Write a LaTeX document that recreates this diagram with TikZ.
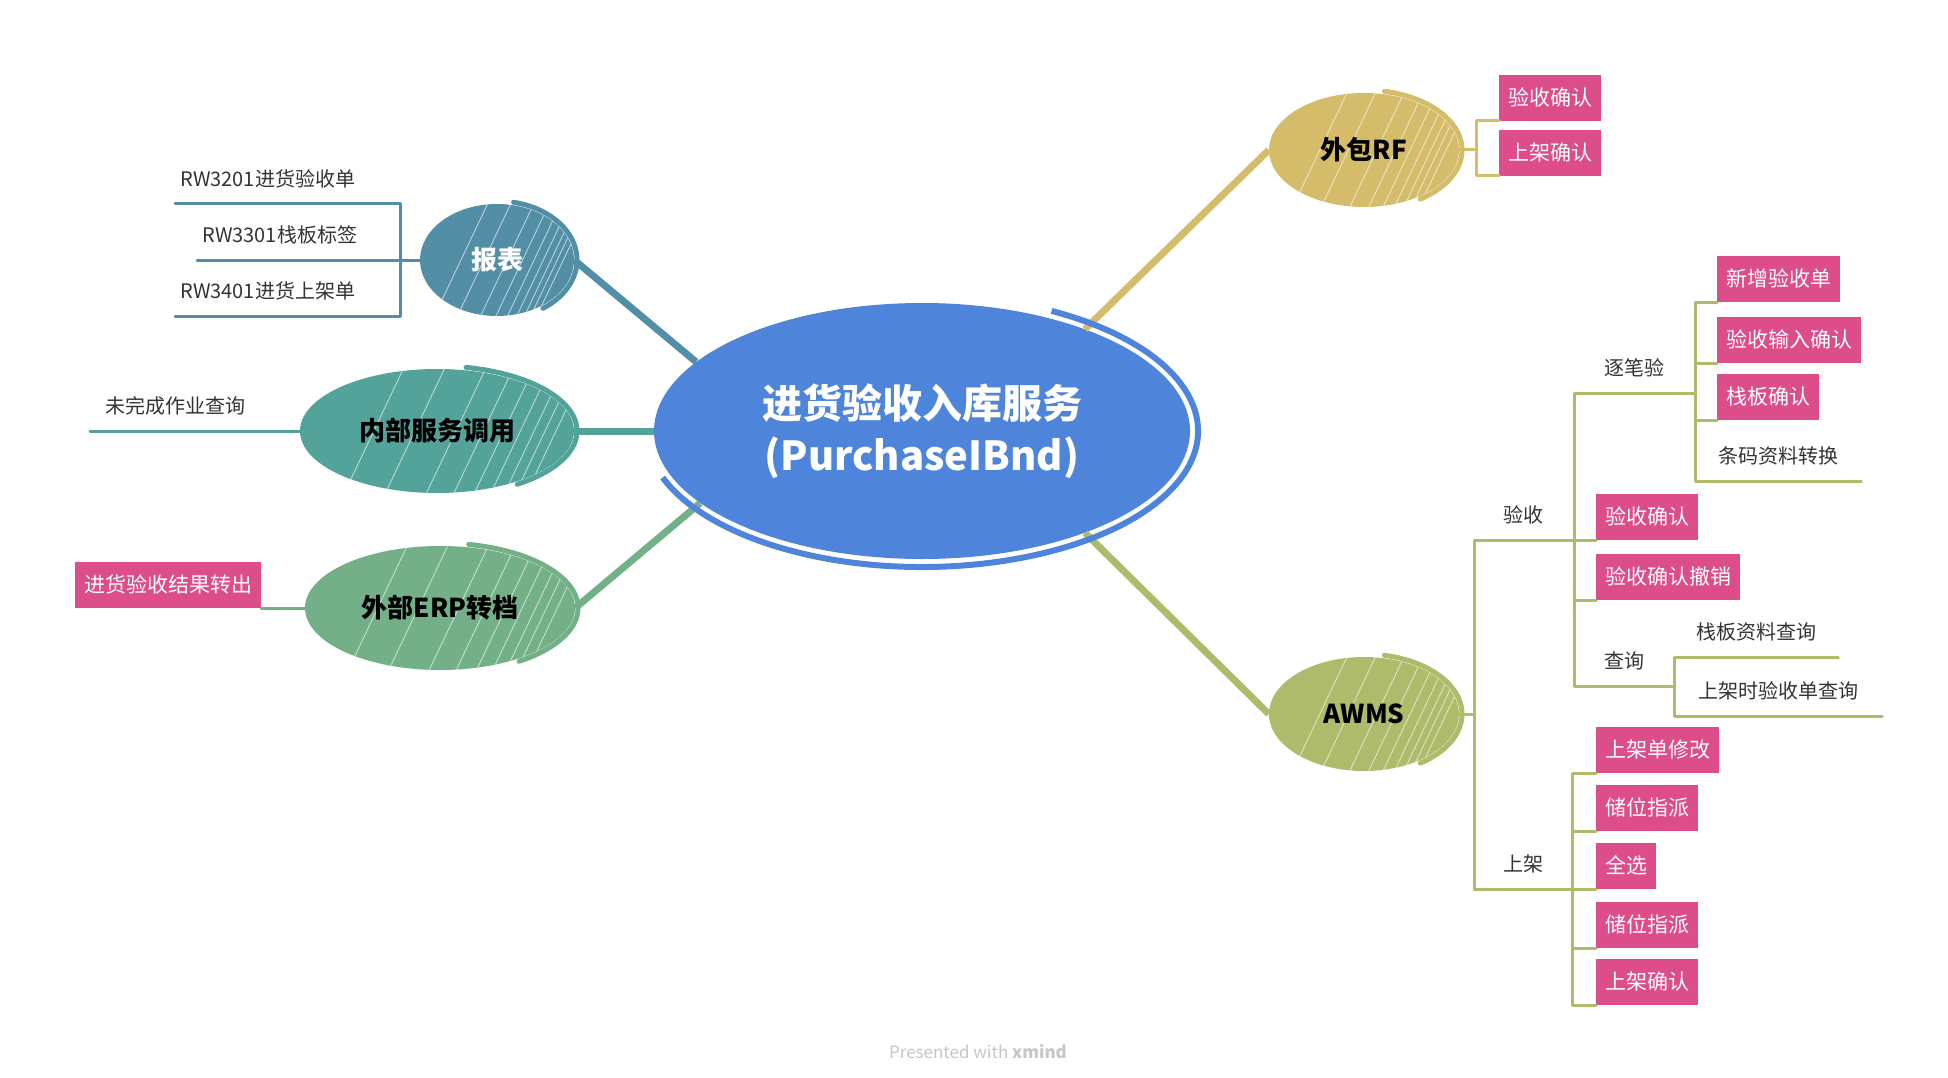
\documentclass[tikz,border=0pt]{standalone}
\usepackage{fontspec}
\setmainfont{Noto Sans CJK SC}
\usetikzlibrary{positioning,calc,shapes.geometric}
\tikzset{>=stealth}

\definecolor{mainblue}{HTML}{4E85DA}
\definecolor{repblue}{HTML}{528FA6}
\definecolor{innteal}{HTML}{53A39B}
\definecolor{erpgreen}{HTML}{73B088}
\definecolor{rfgold}{HTML}{D4BC6A}
\definecolor{awmsolive}{HTML}{ADBB6B}
\definecolor{leafpink}{HTML}{DC4D8A}
\definecolor{leaftext}{HTML}{333333}

% Outer stroke of a topic: #1 node, #2 x radius, #3 y radius, #4 colour
\newcommand{\swoosh}[4]{%
  \draw[#4,line width=5pt,line cap=round] ($(#1.center)+(-78:#2+3 and #3+3)$)
     arc [start angle=-78,end angle=55,x radius=#2+3,y radius=#3+3];
}

\begin{document}
\begin{tikzpicture}[x=1pt,y=-1pt,
  topic/.style={ellipse,inner sep=0pt,font=\fontsize{26}{30}\selectfont\bfseries},
  hatch/.style 2 args={path picture={
    \foreach \d in {-0.45,-0.15,0.15,0.35,0.5,0.62,0.72,0.8,0.88}
      \draw[white,line width=1pt,opacity=.55]
        ($(path picture bounding box.center)+(\d*#1-0.5*#2,#2)$) -- ++(0.95*#2,-2*#2);}},
  leaf/.style={fill=leafpink,text=white,inner xsep=9pt,minimum height=46pt,anchor=south west,font=\fontsize{21}{24}\selectfont},
  plain/.style={text=leaftext,minimum height=50pt,anchor=south west,font=\fontsize{20}{24}\selectfont},
  mainlink/.style={line width=7pt},
  sublink/.style={line width=3pt,line cap=round,line join=round}]
\useasboundingbox (0,0) rectangle (1948,1078);

% Central topic
\node[topic,fill=mainblue,text=white,minimum width=536pt,minimum height=256pt,
  font=\fontsize{40}{52}\selectfont\bfseries,align=center] (main) at (922,431)
  {进货验收入库服务\\(PurchaseIBnd)};

% Main branches
\node[topic,fill=repblue,text=white,hatch={77}{56},minimum width=154pt,minimum height=112pt] (rep) at (497,260) {报表};
\node[topic,fill=innteal,hatch={137}{62},minimum width=274pt,minimum height=124pt] (inner) at (437,431) {内部服务调用};
\node[topic,fill=erpgreen,hatch={135}{62},minimum width=270pt,minimum height=124pt] (erp) at (440,608) {外部ERP转档};
\node[topic,fill=rfgold,hatch={95}{57},minimum width=190pt,minimum height=114pt] (rf) at (1364,150) {外包RF};
\node[topic,fill=awmsolive,hatch={95}{57},minimum width=190pt,minimum height=114pt] (awms) at (1364,714) {AWMS};

% Links from the central topic
\draw[mainlink,repblue] (main.163) -- (rep.east);
\draw[mainlink,innteal] (main.west) -- (inner.east);
\draw[mainlink,erpgreen] (main.198) -- (erp.east);
\draw[mainlink,rfgold] (main.32) -- (rf.west);
\draw[mainlink,awmsolive] (main.-32) -- (awms.west);

% Sketch strokes
\draw[mainblue,line width=6pt] ($(main.center)+(-62:276 and 136)$)
   arc [start angle=-62,end angle=160,x radius=276,y radius=136];
\swoosh{rep}{77}{56}{repblue}
\swoosh{inner}{137}{62}{innteal}
\swoosh{erp}{135}{62}{erpgreen}
\swoosh{rf}{95}{57}{rfgold}
\swoosh{awms}{95}{57}{awmsolive}

% Reports
\coordinate (repj) at (400,260);
\node[plain,align=left,text width=215pt,inner xsep=5pt] (rw1) at (175,204) {RW3201进货验收单};
\node[plain,align=left,text width=193pt,inner xsep=5pt] (rw2) at (197,260) {RW3301栈板标签};
\node[plain,align=left,text width=215pt,inner xsep=5pt] (rw3) at (175,316) {RW3401进货上架单};
\draw[sublink,repblue] (rep) -- (repj);
\draw[sublink,repblue] (rw1.south west) -- (rw1.south east) -- (rw3.south east) -- (rw3.south west);
\draw[sublink,repblue] (rw2.south west) -- (rw2.south east);

% Internal service call
\node[plain,minimum width=170pt] (todo) at (90,431) {未完成作业查询};
\draw[sublink,innteal] (todo.south west) -- (inner);

% External ERP transfer
\node[leaf] (erpout) at (75,608) {进货验收结果转出};
\draw[sublink,erpgreen] (erpout.south east) -- (erp);

% Outsourced RF
\coordinate (rfj) at (1476,150);
\node[leaf] (rfa) at (1499,121) {验收确认};
\node[leaf] (rfb) at (1499,176) {上架确认};
\draw[sublink,rfgold] (rf) -- (rfj);
\draw[sublink,rfgold] (rfa.south west) -| (rfj) |- (rfb.south west);

% AWMS: receiving and putaway
\coordinate (awj) at (1474,714);
\node[plain,minimum width=98pt] (ys) at (1474,540) {验收};
\node[plain,minimum width=98pt] (sj) at (1474,889) {上架};
\draw[sublink,awmsolive] (awms) -- (awj);
\draw[sublink,awmsolive] (ys.south east) -- (ys.south west) |- (sj.south east);

% Receiving
\node[plain,minimum width=121pt] (zb) at (1574,393) {逐笔验};
\node[leaf] (ysqr) at (1596,540) {验收确认};
\node[leaf] (ysqrcx) at (1596,600) {验收确认撤销};
\node[plain,minimum width=100pt] (cx) at (1574,686) {查询};
\draw[sublink,awmsolive] (zb.south east) -- (zb.south west) |- (cx.south east);
\draw[sublink,awmsolive] (ys.south east) -- (ysqr.south west);
\draw[sublink,awmsolive] (ysqrcx.south west) -- (ysqrcx.south west -| zb.south west);

% Item by item
\node[leaf] (xz) at (1717,302) {新增验收单};
\node[leaf] (srqr) at (1717,363) {验收输入确认};
\node[leaf] (zbqr) at (1717,420) {栈板确认};
\node[plain,minimum width=166pt] (tm) at (1695,481) {条码资料转换};
\draw[sublink,awmsolive] (xz.south west) -| (zb.south east) |- (tm.south east);
\draw[sublink,awmsolive] (srqr.south west) -- (srqr.south west -| zb.south east);
\draw[sublink,awmsolive] (zbqr.south west) -- (zbqr.south west -| zb.south east);

% Queries
\node[plain,minimum width=164pt] (zbzl) at (1674,657) {栈板资料查询};
\node[plain,minimum width=208pt] (sjys) at (1674,716) {上架时验收单查询};
\draw[sublink,awmsolive] (zbzl.south east) -- (zbzl.south west) |- (sjys.south east);

% Putaway
\node[leaf] (sjxg) at (1596,773) {上架单修改};
\node[leaf] (cw1) at (1596,831) {储位指派};
\node[leaf] (qx) at (1596,889) {全选};
\node[leaf] (cw2) at (1596,948) {储位指派};
\node[leaf] (sjqr) at (1596,1005) {上架确认};
\draw[sublink,awmsolive] (sjxg.south west) -| (sj.south east) |- (sjqr.south west);
\foreach \n in {cw1,qx,cw2}
  \draw[sublink,awmsolive] (\n.south west) -- (\n.south west -| sj.south east);

\node[text=gray!45,font=\fontsize{17}{20}\selectfont] (credit) at (978,1052) {Presented with \textbf{xmind}};
\end{tikzpicture}
\end{document}
